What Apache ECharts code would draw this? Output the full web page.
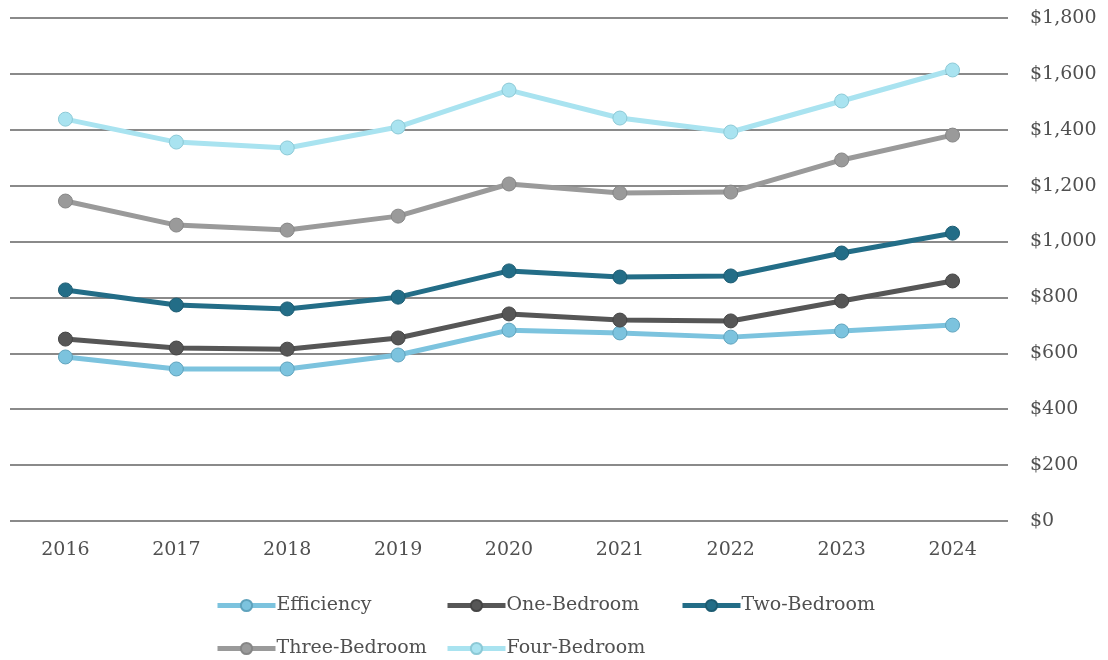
<!DOCTYPE html>
<html><head><meta charset="utf-8">
<script src="https://cdn.jsdelivr.net/npm/echarts@6/dist/echarts.min.js"></script>
<style>html,body{margin:0;padding:0;background:#fff}#c{width:1108px;height:660px}</style>
</head><body><div id="c"></div>
<script>
const years = ['2016','2017','2018','2019','2020','2021','2022','2023','2024'];
const efficiency = [587, 544, 544, 594, 683, 673, 658, 680, 701];
const oneBedroom = [651, 619, 615, 655, 741, 719, 716, 787, 859];
const twoBedroom = [827, 773, 759, 801, 895, 873, 877, 959, 1030];
const threeBedroom = [1145, 1059, 1041, 1091, 1206, 1174, 1177, 1292, 1381];
const fourBedroom = [1438, 1356, 1335, 1410, 1542, 1442, 1392, 1503, 1614];
const seriesNames = ['Efficiency','One-Bedroom','Two-Bedroom','Three-Bedroom','Four-Bedroom'];
const seriesData = [efficiency, oneBedroom, twoBedroom, threeBedroom, fourBedroom];
const colors = ['#7cc3de','#565656','#236d87','#9a9a9a','#a9e3f0'];
const borderColors = ['#5fa3bd','#454545','#1d5c72','#868686','#8cc9d6'];

const FONT = 'DejaVu Serif';
const legendPos = [[210,591],[440,591],[675,591],[210,634],[440,634]];

const chart = echarts.init(document.getElementById('c'));
chart.setOption({
  animation: false,
  grid: {left: 10, right: 100, top: 18, bottom: 139},
  legend: seriesNames.map((n,i)=>({
    data:[n], left: legendPos[i][0], top: legendPos[i][1],
    itemWidth: 58, itemHeight: 14, itemGap: 0,
    lineStyle:{width:5},
    textStyle:{fontFamily: FONT, fontSize: 19, color:'#505050', padding:[0,0,0,-4]}
  })),
  xAxis: {
    type:'category', data: years, boundaryGap: true,
    axisLine:{show:false}, axisTick:{show:false},
    axisLabel:{fontFamily: FONT, fontSize: 19, color:'#505050', margin: 20}
  },
  yAxis: {
    type:'value', position:'right', min:0, max:1800, interval:200,
    axisLine:{show:false}, axisTick:{show:false},
    splitLine:{lineStyle:{color:'#8a8a8a', width:2}},
    axisLabel:{fontFamily: FONT, fontSize: 19, color:'#505050', margin: 22,
      formatter: v => '$' + v.toLocaleString('en-US')}
  },
  series: seriesNames.map((n,i)=>({
    name:n, type:'line', data: seriesData[i],
    symbol:'circle', symbolSize: 14,
    lineStyle:{color: colors[i], width: 5},
    itemStyle:{color: colors[i], borderColor: borderColors[i], borderWidth: 1}
  }))
});
</script></body></html>
